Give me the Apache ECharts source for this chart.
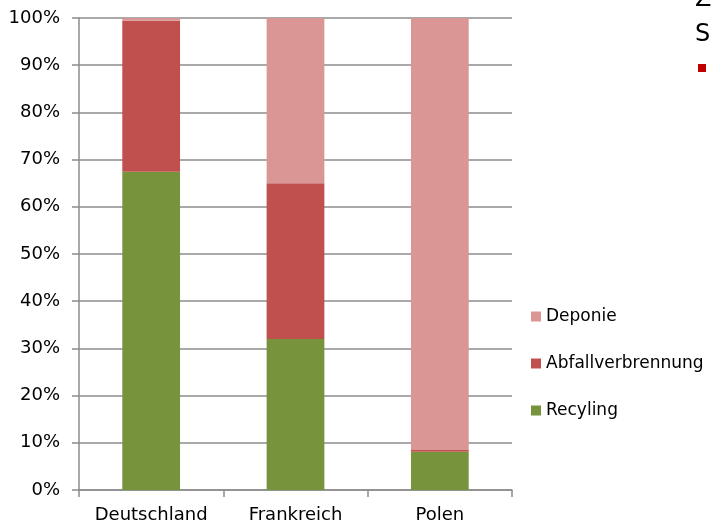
<!DOCTYPE html>
<html>
<head>
<meta charset="utf-8">
<script src="https://cdn.jsdelivr.net/npm/echarts@6/dist/echarts.min.js"></script>
<style>
  html, body { margin: 0; padding: 0; background: #fff; }
  #chart { width: 712px; height: 525px; }
</style>
</head>
<body>
<div id="chart"></div>
<script>
// Countries shown on the category axis
const countries = ['Deutschland', 'Frankreich', 'Polen'];

// Share of municipal waste by treatment route (percent)
const recycling = [67.4, 32.0, 8.1];
const incineration = [32.0, 33.0, 0.4];
const landfill = [0.6, 35.0, 91.5];

// Value-axis tick labels
const yTicks = ['0%', '10%', '20%', '30%', '40%', '50%', '60%', '70%', '80%', '90%', '100%'];

const FONT = 'DejaVu Sans';
const AXIS_GREY = '#8c8c8c';

const chart = echarts.init(document.getElementById('chart'), null, { renderer: 'canvas' });

chart.setOption({
  animation: false,
  backgroundColor: '#ffffff',
  grid: { left: 79, right: 200, top: 18, bottom: 35, containLabel: false },
  legend: {
    orient: 'vertical',
    left: 531,
    top: 308,
    padding: 0,
    itemWidth: 10,
    itemHeight: 10,
    itemGap: 30,
    icon: 'rect',
    data: ['Deponie', 'Abfallverbrennung', 'Recyling'],
    textStyle: { fontFamily: FONT, fontSize: 17, color: '#000', lineHeight: 16 }
  },
  xAxis: {
    type: 'category',
    data: countries,
    axisLine: { lineStyle: { color: AXIS_GREY, width: 1.5 } },
    axisTick: { show: true, length: 7, interval: 0, alignWithLabel: false, lineStyle: { color: AXIS_GREY, width: 1.5 } },
    axisLabel: { fontFamily: FONT, fontSize: 18, color: '#000', margin: 16, interval: 0, hideOverlap: false }
  },
  yAxis: {
    type: 'value',
    min: 0,
    max: 100,
    interval: 10,
    axisLine: { show: true, lineStyle: { color: AXIS_GREY, width: 1.5 } },
    axisTick: { show: true, length: 7, lineStyle: { color: AXIS_GREY, width: 1.5 } },
    splitLine: { show: true, lineStyle: { color: AXIS_GREY, width: 1.5 } },
    axisLabel: {
      fontFamily: FONT, fontSize: 18, color: '#000', margin: 19,
      formatter: function (v) { return yTicks[Math.round(v / 10)]; }
    }
  },
  series: [
    {
      name: 'Recyling', type: 'bar', stack: 'total', data: recycling,
      barWidth: '40%', itemStyle: { color: '#77933C' }
    },
    {
      name: 'Abfallverbrennung', type: 'bar', stack: 'total', data: incineration,
      barWidth: '40%', itemStyle: { color: '#C0504D' }
    },
    {
      name: 'Deponie', type: 'bar', stack: 'total', data: landfill,
      barWidth: '40%', itemStyle: { color: '#D99694' }
    }
  ],
  graphic: [
    { type: 'text', left: 695, top: -12, style: { text: 'Z', fontFamily: FONT, fontSize: 24, fill: '#000' } },
    { type: 'text', left: 695, top: 23, style: { text: 'S', fontFamily: FONT, fontSize: 24, fill: '#000' } },
    { type: 'rect', shape: { x: 698, y: 64, width: 8, height: 8 }, style: { fill: '#C00000' } }
  ]
});
</script>
</body>
</html>
